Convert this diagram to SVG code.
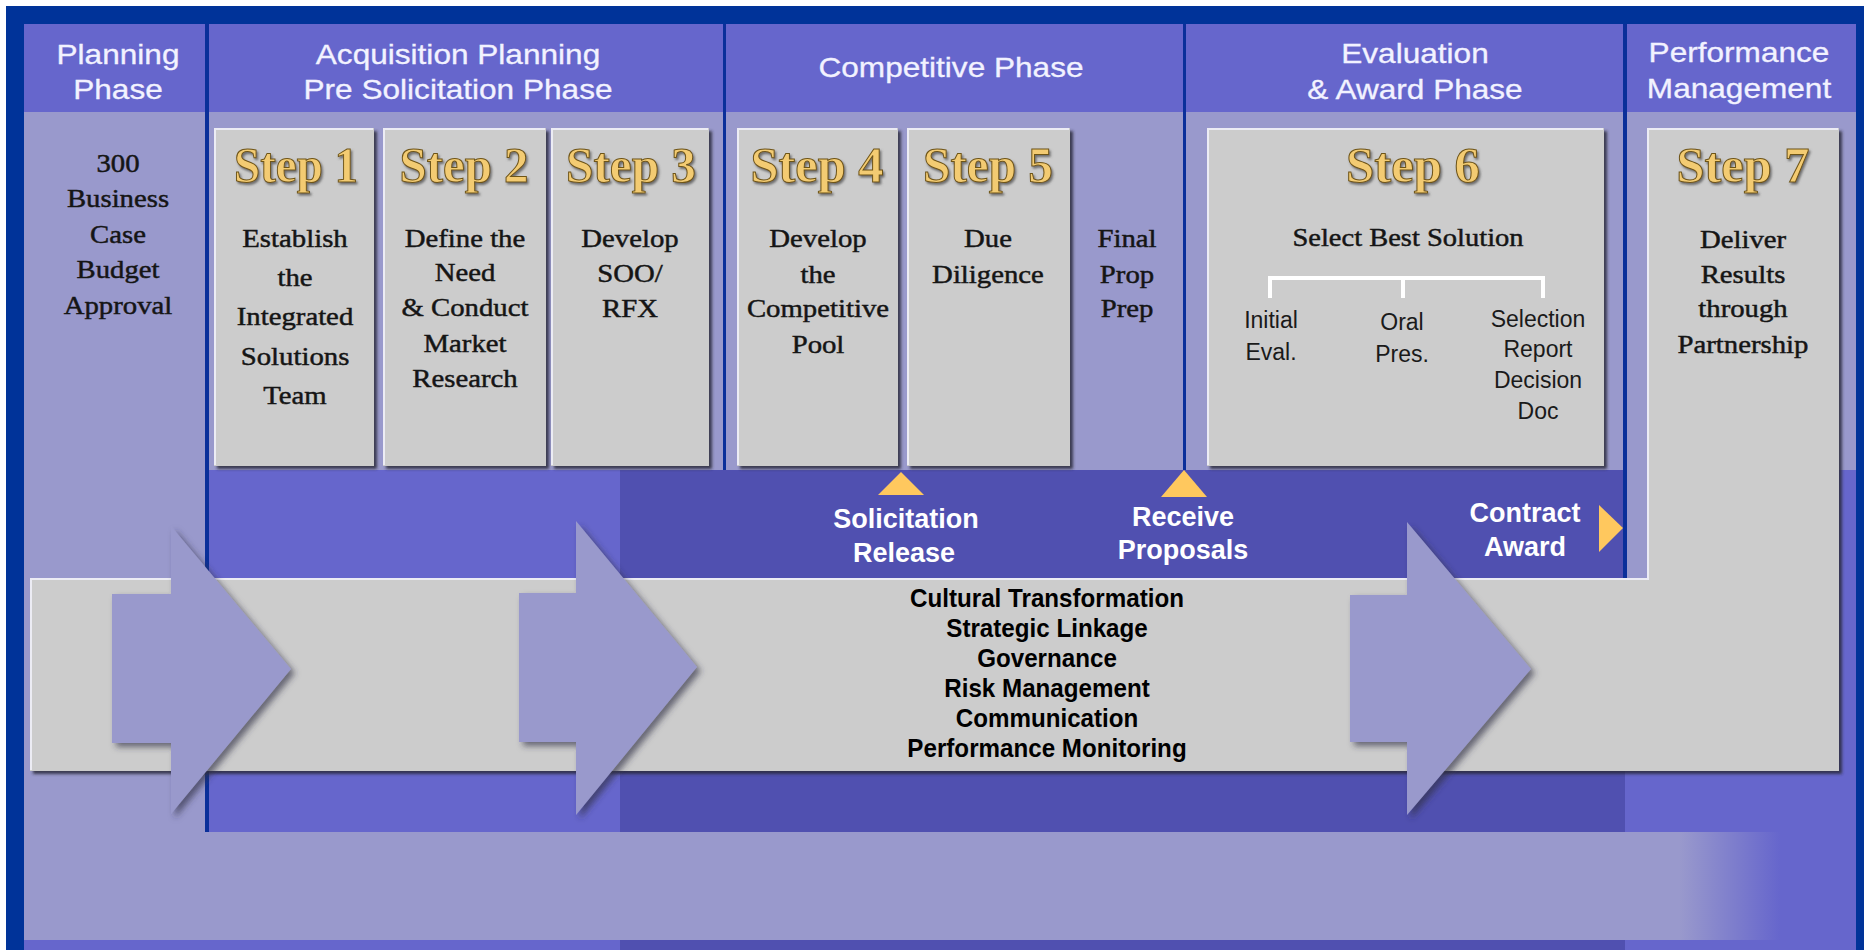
<svg xmlns="http://www.w3.org/2000/svg" width="1864" height="950" viewBox="0 0 1864 950">
<defs>
<filter id="bsh" x="-10%" y="-10%" width="130%" height="130%"><feDropShadow dx="3" dy="3" stdDeviation="1.5" flood-color="#2a2a3a" flood-opacity="0.85"/></filter>
<filter id="ash" x="-20%" y="-20%" width="150%" height="150%"><feDropShadow dx="4" dy="4" stdDeviation="3" flood-color="#333344" flood-opacity="0.65"/></filter>
<filter id="tsh" x="-10%" y="-20%" width="130%" height="150%"><feDropShadow dx="1.5" dy="2" stdDeviation="1.2" flood-color="#555" flood-opacity="0.8"/></filter>
<linearGradient id="fade" gradientUnits="userSpaceOnUse" x1="1680" y1="0" x2="1780" y2="0"><stop offset="0" stop-color="#9999cc"/><stop offset="1" stop-color="#6666cc"/></linearGradient>
<style>
.hd{font-family:"Liberation Sans",Arial,sans-serif;font-size:27px;fill:#f2f2ff;stroke:#f2f2ff;stroke-width:0.3;text-anchor:middle}
.sr{font-family:"Liberation Serif","Times New Roman",serif;font-size:25px;fill:#151515;stroke:#151515;stroke-width:0.45;text-anchor:middle}
.st{font-family:"Liberation Serif","Times New Roman",serif;font-size:50px;font-weight:bold;fill:#f3cb72;stroke:#6e5418;stroke-width:1;text-anchor:middle;filter:url(#tsh)}
.sb{font-family:"Liberation Sans",Arial,sans-serif;font-size:23px;fill:#1a1a1a;text-anchor:middle}
.wl{font-family:"Liberation Sans",Arial,sans-serif;font-size:27px;font-weight:bold;fill:#ffffff;text-anchor:middle}
.gb{font-family:"Liberation Sans",Arial,sans-serif;font-size:26px;font-weight:bold;fill:#000000;text-anchor:middle}
.box{fill:#cccccc;filter:url(#bsh)}
.hl{fill:none;stroke:#ececf4;stroke-width:2}
.arr{fill:#9999cc;filter:url(#ash)}
.tri{fill:#ffc85e}
.div{fill:#0a2f9a}
.med{fill:#6666cc}
.lt{fill:#9999cc}
.dk{fill:#5050b0}
</style>
</defs>

<g id="background">
<rect x="0" y="0" width="1864" height="950" fill="#ffffff"/>
<rect x="6" y="6" width="1858" height="944" fill="#003399"/>
<rect class="med" x="24" y="24" width="1832" height="926"/>
<rect class="lt" x="24" y="112" width="1832" height="358"/>
<rect class="lt" x="24" y="470" width="182" height="470"/>
<rect class="dk" x="620" y="470" width="1005" height="480"/>
<rect class="lt" x="1627" y="470" width="20" height="108"/>
<rect x="24" y="832" width="1832" height="108" fill="url(#fade)"/>
<rect class="div" x="205" y="24" width="4" height="808"/>
<rect class="div" x="723" y="24" width="3" height="446"/>
<rect class="div" x="1183" y="24" width="3" height="446"/>
<rect class="div" x="1623" y="24" width="4" height="554"/>
</g>

<g id="headers">
<g transform="translate(118,0) scale(1.17,1)"><text class="hd" x="0" y="64">Planning</text><text class="hd" x="0" y="99">Phase</text></g>
<g transform="translate(458,0) scale(1.17,1)"><text class="hd" x="0" y="64">Acquisition Planning</text><text class="hd" x="0" y="99">Pre Solicitation Phase</text></g>
<g transform="translate(951,0) scale(1.17,1)"><text class="hd" x="0" y="77">Competitive Phase</text></g>
<g transform="translate(1415,0) scale(1.17,1)"><text class="hd" x="0" y="63">Evaluation</text><text class="hd" x="0" y="99">&amp; Award Phase</text></g>
<g transform="translate(1739,0) scale(1.17,1)"><text class="hd" x="0" y="62">Performance</text><text class="hd" x="0" y="98">Management</text></g>
</g>

<g id="planning">
<g transform="translate(118,0) scale(1.15,1)">
<text class="sr" x="0" y="172">300</text><text class="sr" x="0" y="207">Business</text><text class="sr" x="0" y="243">Case</text><text class="sr" x="0" y="278">Budget</text><text class="sr" x="0" y="314">Approval</text>
</g>
</g>

<g id="step1">
<rect class="box" x="214" y="128" width="160" height="338"/>
<path class="hl" d="M215,465 V129 H373"/>
<text class="st" x="296" y="182" textLength="124" lengthAdjust="spacingAndGlyphs">Step 1</text>
<g transform="translate(295,0) scale(1.15,1)">
<text class="sr" x="0" y="247">Establish</text><text class="sr" x="0" y="286">the</text><text class="sr" x="0" y="325">Integrated</text><text class="sr" x="0" y="365">Solutions</text><text class="sr" x="0" y="404">Team</text>
</g>
</g>

<g id="step2">
<rect class="box" x="383" y="128" width="163" height="338"/>
<path class="hl" d="M384,465 V129 H545"/>
<text class="st" x="464" y="182" textLength="129" lengthAdjust="spacingAndGlyphs">Step 2</text>
<g transform="translate(465,0) scale(1.15,1)">
<text class="sr" x="0" y="247">Define the</text><text class="sr" x="0" y="281">Need</text><text class="sr" x="0" y="316">&amp; Conduct</text><text class="sr" x="0" y="352">Market</text><text class="sr" x="0" y="387">Research</text>
</g>
</g>

<g id="step3">
<rect class="box" x="551" y="128" width="158" height="338"/>
<path class="hl" d="M552,465 V129 H708"/>
<text class="st" x="631" y="182" textLength="130" lengthAdjust="spacingAndGlyphs">Step 3</text>
<g transform="translate(630,0) scale(1.15,1)">
<text class="sr" x="0" y="247">Develop</text><text class="sr" x="0" y="282">SOO/</text><text class="sr" x="0" y="317">RFX</text>
</g>
</g>

<g id="step4">
<rect class="box" x="737" y="128" width="161" height="338"/>
<path class="hl" d="M738,465 V129 H897"/>
<text class="st" x="817" y="182" textLength="133" lengthAdjust="spacingAndGlyphs">Step 4</text>
<g transform="translate(818,0) scale(1.15,1)">
<text class="sr" x="0" y="247">Develop</text><text class="sr" x="0" y="283">the</text><text class="sr" x="0" y="317">Competitive</text><text class="sr" x="0" y="353">Pool</text>
</g>
</g>

<g id="step5">
<rect class="box" x="907" y="128" width="163" height="338"/>
<path class="hl" d="M908,465 V129 H1069"/>
<text class="st" x="988" y="182" textLength="130" lengthAdjust="spacingAndGlyphs">Step 5</text>
<g transform="translate(988,0) scale(1.15,1)">
<text class="sr" x="0" y="247">Due</text><text class="sr" x="0" y="283">Diligence</text>
</g>
</g>

<g id="final-prop-prep">
<g transform="translate(1127,0) scale(1.15,1)">
<text class="sr" x="0" y="247">Final</text><text class="sr" x="0" y="283">Prop</text><text class="sr" x="0" y="317">Prep</text>
</g>
</g>

<g id="step6">
<rect class="box" x="1207" y="128" width="397" height="338"/>
<path class="hl" d="M1208,465 V129 H1603"/>
<text class="st" x="1413" y="182" textLength="134" lengthAdjust="spacingAndGlyphs">Step 6</text>
<g transform="translate(1408,0) scale(1.14,1)"><text class="sr" x="0" y="246">Select Best Solution</text></g>
<text class="sb" x="1271" y="328">Initial</text><text class="sb" x="1271" y="360">Eval.</text>
<text class="sb" x="1402" y="330">Oral</text><text class="sb" x="1402" y="362">Pres.</text>
<text class="sb" x="1538" y="327">Selection</text><text class="sb" x="1538" y="357">Report</text><text class="sb" x="1538" y="388">Decision</text><text class="sb" x="1538" y="419">Doc</text>
</g>

<g id="connectors">
<path d="M1270,298 V278 H1543 V298 M1403,278 V298" fill="none" stroke="#ffffff" stroke-width="4"/>
</g>

<g id="step7-band">
<path class="box" d="M30,578 H1647 V128 H1839 V771 H30 Z"/>
<path class="hl" d="M31,770 V579 H1648 V129 H1838"/>
<text class="st" x="1743" y="182" textLength="133" lengthAdjust="spacingAndGlyphs">Step 7</text>
<g transform="translate(1743,0) scale(1.15,1)">
<text class="sr" x="0" y="248">Deliver</text><text class="sr" x="0" y="283">Results</text><text class="sr" x="0" y="317">through</text><text class="sr" x="0" y="353">Partnership</text>
</g>
</g>

<g id="arrows">
<path class="arr" d="M112,594 H171 V526 L291,669 L171,814 V743 H112 Z"/>
<path class="arr" d="M519,593 H576 V521 L697,667 L576,815 V742 H519 Z"/>
<path class="arr" d="M1350,595 H1407 V522 L1531,669 L1407,815 V742 H1350 Z"/>
</g>

<g id="principles">
<g transform="translate(1047,0) scale(0.93,1)">
<text class="gb" x="0" y="607">Cultural Transformation</text>
<text class="gb" x="0" y="637">Strategic Linkage</text>
<text class="gb" x="0" y="667">Governance</text>
<text class="gb" x="0" y="697">Risk Management</text>
<text class="gb" x="0" y="727">Communication</text>
<text class="gb" x="0" y="757">Performance Monitoring</text>
</g>
</g>

<g id="solicitation-release">
<polygon class="tri" points="901,472 878,495 924,495"/>
<text class="wl" x="906" y="528">Solicitation</text><text class="wl" x="904" y="562">Release</text>
</g>
<g id="receive-proposals">
<polygon class="tri" points="1184,470 1161,497 1207,497"/>
<text class="wl" x="1183" y="526">Receive</text><text class="wl" x="1183" y="559">Proposals</text>
</g>
<g id="contract-award">
<polygon class="tri" points="1599,505 1623,528 1599,552"/>
<text class="wl" x="1525" y="522">Contract</text><text class="wl" x="1525" y="556">Award</text>
</g>
</svg>
